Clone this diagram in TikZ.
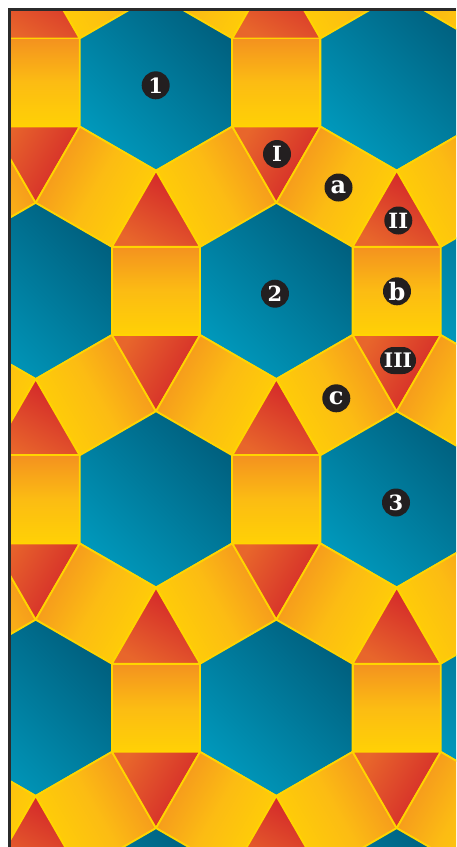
\documentclass[tikz,border=0pt]{standalone}
\usepackage{fontspec}
\newfontfamily\labfont{DejaVu Serif}
\definecolor{hexdark}{HTML}{00607F}
\definecolor{hexlight}{HTML}{0098BB}
\definecolor{sqor}{HTML}{F4921F}
\definecolor{sqmid}{HTML}{FCBC13}
\definecolor{sqye}{HTML}{FFD105}
\definecolor{trired}{HTML}{D2232A}
\definecolor{trior}{HTML}{E8662B}
\definecolor{edgeye}{HTML}{FFD500}
\definecolor{labdark}{HTML}{231F20}
\definecolor{framegray}{HTML}{2B2B2B}
\tikzset{
 tile/.style={draw=edgeye, line width=1.8pt, line join=round},
 hexa/.style={tile, top color=hexdark, bottom color=hexlight, shading angle=-45},
 vsq/.style={tile, top color=sqor, bottom color=sqye, middle color=sqmid, shading angle=0},
 asq/.style={tile, top color=sqor, bottom color=sqye, middle color=sqmid, shading angle=60},
 csq/.style={tile, top color=sqor, bottom color=sqye, middle color=sqmid, shading angle=-60},
 uptri/.style={tile, top color=trired, bottom color=trior, shading angle=-30},
 dntri/.style={tile, top color=trired, bottom color=trior, shading angle=-120},
 lab/.style={circle, fill=labdark, text=white, minimum size=28pt, inner sep=0pt,
   font=\labfont\bfseries\fontsize{21}{21}\selectfont},
 labs/.style={lab, font=\labfont\bfseries\fontsize{24}{24}\selectfont},
 labw/.style={lab, rectangle, rounded corners=13.5pt, minimum width=36pt, minimum height=27pt,
   font=\labfont\bfseries\fontsize{20}{20}\selectfont},
}
\begin{document}
\begin{tikzpicture}[x=1pt,y=-1pt]
\useasboundingbox (0,0) rectangle (456,847);
\fill[white] (0,0) rectangle (456,847);
\begin{scope}
\clip (10,10) rectangle (456,847);
\foreach \j in {-1,...,4}{
 \foreach \i in {-4,...,2}{
  \pgfmathsetmacro\cx{156+240.68*\i+120.34*\j}
  \pgfmathsetmacro\cy{82.5+208.43*\j}
  \begin{scope}[shift={(\cx,\cy)}]
   \shadedraw[hexa] (0,-88.1) -- (76.30,-44.05) -- (76.30,44.05) -- (0,88.1) -- (-76.30,44.05) -- (-76.30,-44.05) -- cycle;
   \shadedraw[vsq] (76.30,-44.05) -- (164.38,-44.05) -- (164.38,44.05) -- (76.30,44.05) -- cycle;
   \shadedraw[csq] (76.30,44.05) -- (120.34,120.33) -- (44.04,164.38) -- (0,88.1) -- cycle;
   \shadedraw[asq] (-76.30,44.05) -- (-120.34,120.33) -- (-44.04,164.38) -- (0,88.1) -- cycle;
   \shadedraw[dntri] (76.30,44.05) -- (164.38,44.05) -- (120.34,120.33) -- cycle;
   \shadedraw[uptri] (0,88.1) -- (44.04,164.38) -- (-44.04,164.38) -- cycle;
  \end{scope}
 }}
\end{scope}
\draw[framegray, line width=3pt] (9.5,847) -- (9.5,9.5) -- (456,9.5);
\node[lab] (n1) at (155.7,85.3) {1};
\node[lab] (nI) at (277,154) {I};
\node[labs] (na) at (338.5,187.5) {a};
\node[lab] (nII) at (398.3,220.5) {II};
\node[lab] (n2) at (275,293.7) {2};
\node[labs] (nb) at (397,291.3) {b};
\node[labw] (nIII) at (398,360.5) {III};
\node[labs] (nc) at (336.3,398.3) {c};
\node[lab] (n3) at (396,502.5) {3};
\end{tikzpicture}
\end{document}
